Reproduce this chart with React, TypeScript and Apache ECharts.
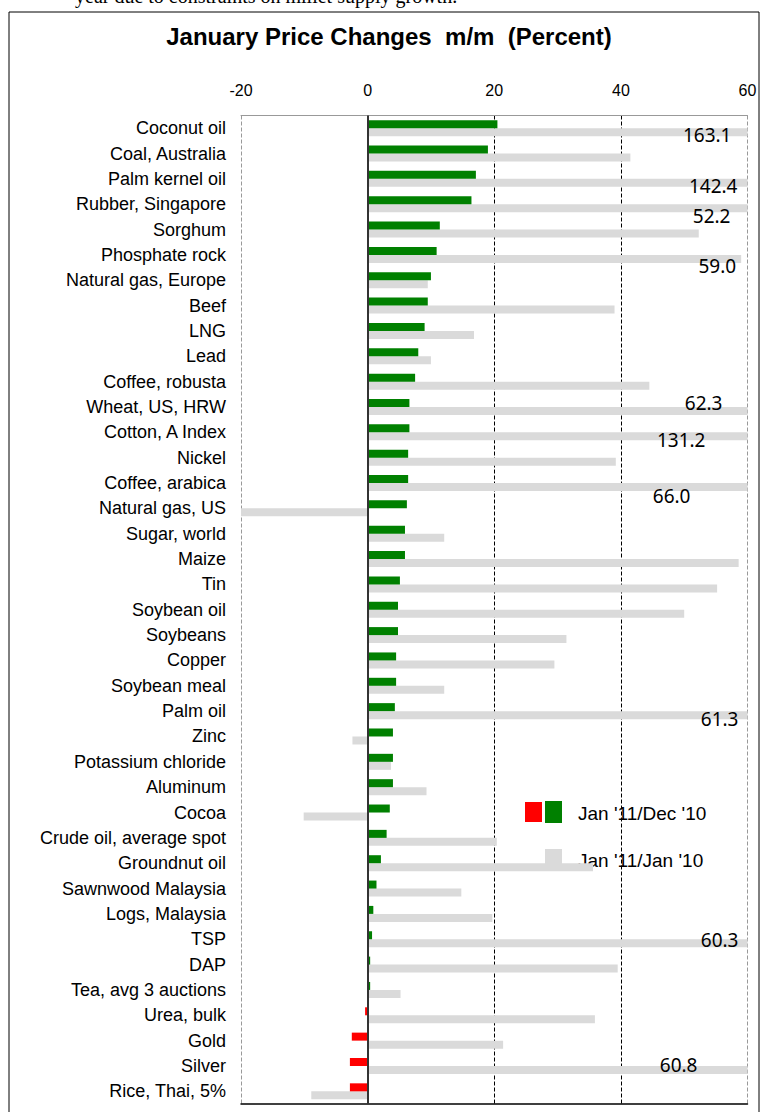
import React, { useEffect, useRef } from "react";
import * as echarts from "echarts";

const categories = [
  "Coconut oil", "Coal, Australia", "Palm kernel oil", "Rubber, Singapore", "Sorghum",
  "Phosphate rock", "Natural gas, Europe", "Beef", "LNG", "Lead",
  "Coffee, robusta", "Wheat, US, HRW", "Cotton, A Index", "Nickel", "Coffee, arabica",
  "Natural gas, US", "Sugar, world", "Maize", "Tin", "Soybean oil",
  "Soybeans", "Copper", "Soybean meal", "Palm oil", "Zinc",
  "Potassium chloride", "Aluminum", "Cocoa", "Crude oil, average spot", "Groundnut oil",
  "Sawnwood Malaysia", "Logs, Malaysia", "TSP", "DAP", "Tea, avg 3 auctions",
  "Urea, bulk", "Gold", "Silver", "Rice, Thai, 5%",
];

// Jan '11 / Dec '10 (percent)
const janDec = [
  20.5, 19.0, 17.1, 16.4, 11.4,
  10.9, 10.0, 9.5, 9.0, 8.0,
  7.5, 6.6, 6.6, 6.4, 6.4,
  6.2, 5.9, 5.9, 5.1, 4.8,
  4.8, 4.5, 4.5, 4.3, 4.0,
  4.0, 4.0, 3.5, 3.0, 2.1,
  1.4, 0.9, 0.7, 0.4, 0.4,
  -0.4, -2.5, -2.8, -2.8,
];

// Jan '11 / Jan '10 (percent)
const janJan = [
  163.1, 41.5, 142.4, 152.2, 52.3,
  59.0, 9.5, 39.0, 16.8, 10.0,
  44.5, 62.3, 131.2, 39.2, 66.0,
  -20.3, 12.1, 58.6, 55.2, 50.0,
  31.4, 29.5, 12.1, 61.3, -2.4,
  3.7, 9.3, -10.1, 20.4, 35.6,
  14.8, 19.7, 60.3, 39.5, 5.2,
  35.9, 21.4, 60.8, -8.9,
];

// value labels shown on the Jan/Jan bars
const janJanLabels = [
  "163.1", "", "142.4", "52.2", "",
  "59.0", "", "", "", "",
  "", "62.3", "131.2", "", "66.0",
  "", "", "", "", "",
  "", "", "", "61.3", "",
  "", "", "", "", "",
  "", "", "60.3", "", "",
  "", "", "60.8", "",
];

const xTicks = [-20, 0, 20, 40, 60];

const seriesNames = ["Jan '11/Dec '10", "Jan '11/Jan '10"];
const titleText = "January Price Changes  m/m  (Percent)";
const topText = "year due to constraints on millet supply growth.";

// label placement (styling only)
const labelOffsets: Record<string, [number, number]> = {
  "Coconut oil": [-16, 2.5],
  "Palm kernel oil": [-10, 3],
  "Rubber, Singapore": [-17, 7.5],
  "Phosphate rock": [-5, 7.5],
  "Wheat, US, HRW": [-25, -8],
  "Cotton, A Index": [-42, 4],
  "Coffee, arabica": [-57, 9],
  "Palm oil": [-9, 4],
  TSP: [-9, -3],
  Silver: [-50, -5],
};

const GREEN = "#008000";
const RED = "#ff0000";
const GRAY = "#dadada";

export default function App() {
  const ref = useRef<HTMLDivElement>(null);
  useEffect(() => {
    if (!ref.current) return;
    const chart = echarts.init(ref.current, null, { renderer: "svg" });

    const grayData = janJan.map((v, i) => {
      const lab = janJanLabels[i];
      if (!lab) return v;
      const off = labelOffsets[categories[i]] || [0, 0];
      return {
        value: v,
        label: {
          show: true,
          formatter: lab,
          position: "insideRight",
          distance: 0,
          offset: off,
          color: "#000",
          fontFamily: "Noto Sans",
          fontSize: 19,
        },
      };
    });

    chart.setOption({
      animation: false,
      textStyle: { fontFamily: "Liberation Sans" },
      grid: { left: 241, right: 19.5, top: 115.5, bottom: 8, containLabel: false },
      xAxis: [
        {
          type: "value",
          position: "top",
          min: xTicks[0],
          max: xTicks[xTicks.length - 1],
          interval: 20,
          axisLine: { show: true, onZero: false, lineStyle: { color: "#999", width: 1 } },
          axisTick: { show: false },
          axisLabel: { color: "#000", fontSize: 16, margin: 17, fontFamily: "Liberation Sans" },
          splitLine: {
            show: true,
            lineStyle: { color: ["#999", "#000", "#000", "#000", "#999"], type: "dashed", width: 1 },
          },
        },
        {
          type: "value",
          position: "bottom",
          min: xTicks[0],
          max: xTicks[xTicks.length - 1],
          interval: 20,
          axisLine: { show: true, onZero: false, lineStyle: { color: "#000", width: 1.5 } },
          axisTick: { show: false },
          axisLabel: { show: false },
          splitLine: { show: false },
        },
      ],
      yAxis: {
        type: "category",
        data: categories,
        inverse: true,
        axisLine: { show: false, onZero: false },
        axisTick: { show: false },
        axisLabel: { color: "#000", fontSize: 18, margin: 15, fontFamily: "Liberation Sans" },
        splitLine: { show: false },
      },
      series: [
        {
          name: seriesNames[0],
          type: "bar",
          data: janDec,
          barWidth: 8,
          barGap: "0%",
          itemStyle: {
            color: (p: any) => (p.value < 0 ? RED : GREEN),
          },
          markLine: {
            silent: true,
            symbol: "none",
            label: { show: false },
            lineStyle: { color: "#333", width: 2, type: "solid" },
            data: [{ xAxis: 0 }],
          },
        },
        {
          name: seriesNames[1],
          type: "bar",
          data: grayData,
          barWidth: 8,
          barGap: "0%",
          itemStyle: { color: GRAY },
          z: 1,
        },
      ],
      graphic: [
        {
          type: "rect",
          shape: { x: 9, y: 12, width: 750, height: 1200 },
          style: { fill: "none", stroke: "#000", lineWidth: 1 },
          silent: true,
        },
        {
          type: "text",
          x: 75,
          y: 6,
          style: {
            text: topText,
            font: "20px 'Liberation Serif'",
            fill: "#000",
            verticalAlign: "bottom",
          },
        },
        {
          type: "text",
          x: 389,
          y: 36,
          style: {
            text: titleText,
            font: "bold 24px 'Liberation Sans'",
            fill: "#000",
            align: "center",
            verticalAlign: "middle",
          },
        },
        { type: "rect", shape: { x: 525, y: 802, width: 17, height: 20 }, style: { fill: RED } },
        { type: "rect", shape: { x: 545, y: 801, width: 17, height: 22 }, style: { fill: GREEN } },
        {
          type: "text",
          x: 578,
          y: 813,
          style: { text: seriesNames[0], font: "19px 'Liberation Sans'", fill: "#000", verticalAlign: "middle" },
        },
        { type: "rect", shape: { x: 545, y: 849, width: 17, height: 20 }, style: { fill: GRAY } },
        {
          type: "text",
          x: 578,
          y: 860,
          style: { text: seriesNames[1], font: "19px 'Liberation Sans'", fill: "#000", verticalAlign: "middle" },
        },
      ],
    });
    return () => chart.dispose();
  }, []);
  return (
    <div
      ref={ref}
      style={{ position: "absolute", left: 0, top: 0, width: 767, height: 1112, background: "#fff" }}
    />
  );
}
